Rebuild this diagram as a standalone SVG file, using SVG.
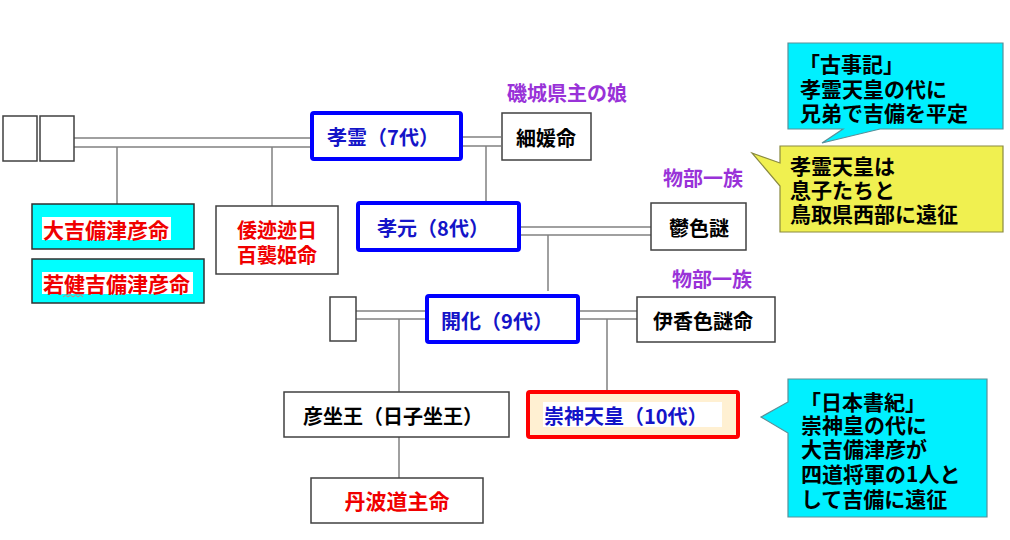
<svg xmlns="http://www.w3.org/2000/svg" width="1010" height="540" viewBox="0 0 1010 540">
<style>
text{font-family:"Noto Sans CJK JP","Noto Sans",sans-serif;font-weight:700;dominant-baseline:central}
.box{fill:#fff;stroke:#404040;stroke-width:1.5}
.cyanbox{fill:#00ffff;stroke:#303030;stroke-width:1.5}
.emp{fill:#fff;stroke:#0000ff;stroke-width:4}
.line{stroke:#808080;stroke-width:1.5;fill:none}
.blk{fill:#000;font-size:20px}
.red{fill:#f00000;font-size:21px}
.blu{fill:#1414c8;font-size:20px}
.pur{fill:#9932d8;font-size:20px}
.note{fill:#000;font-size:21px}
.mid{text-anchor:middle}
</style>
<rect width="1010" height="540" fill="#fff"/>
<g id="connectors">
<line class="line" x1="74" y1="138" x2="312" y2="138"/>
<line class="line" x1="74" y1="147" x2="312" y2="147"/>
<line class="line" x1="117" y1="147" x2="117" y2="205"/>
<line class="line" x1="272" y1="147" x2="272" y2="206"/>
<line class="line" x1="461" y1="137" x2="501" y2="137"/>
<line class="line" x1="461" y1="146" x2="501" y2="146"/>
<line class="line" x1="486" y1="146" x2="486" y2="203"/>
<line class="line" x1="519" y1="227" x2="651" y2="227"/>
<line class="line" x1="519" y1="235" x2="651" y2="235"/>
<line class="line" x1="548" y1="235" x2="548" y2="291"/>
<line class="line" x1="356" y1="311" x2="427" y2="311"/>
<line class="line" x1="356" y1="319" x2="427" y2="319"/>
<line class="line" x1="399" y1="319" x2="399" y2="392"/>
<line class="line" x1="578" y1="311" x2="637" y2="311"/>
<line class="line" x1="578" y1="319" x2="637" y2="319"/>
<line class="line" x1="607" y1="319" x2="607" y2="391"/>
<line class="line" x1="399" y1="437" x2="399" y2="478"/>
</g>
<g id="blank1"><rect class="box" x="3" y="116" width="34" height="45"/></g>
<g id="blank2"><rect class="box" x="40" y="116" width="34" height="45"/></g>
<g id="kibitsuhiko">
<rect class="cyanbox" x="32" y="204" width="162" height="45"/>
<rect x="42" y="217" width="129" height="23" fill="#fff"/>
<text class="red" x="43" y="228.5">大吉備津彦命</text>
</g>
<g id="wakatake">
<rect class="cyanbox" x="32" y="259" width="172" height="44"/>
<rect x="42" y="272" width="151" height="22" fill="#fff"/>
<text class="red" x="43" y="283">若健吉備津彦命</text>
<path d="M63,297 l2.5,-2 2.5,2 2.5,-2 2.5,2 2.5,-2 2.5,2 2.5,-2 2.5,2" fill="none" stroke="#d08080" stroke-width="1"/>
</g>
<g id="momoso">
<rect class="box" x="216" y="206" width="122" height="68"/>
<text class="red mid" x="277" y="229" style="font-size:20px"><tspan x="277">倭迹迹日</tspan><tspan x="277" dy="25">百襲姫命</tspan></text>
</g>
<g id="korei">
<rect class="emp" x="312" y="113" width="149" height="46" rx="2"/>
<text class="blu mid" x="383" y="136">孝霊（7代）</text>
</g>
<g id="hosohime">
<rect class="box" x="502" y="113" width="89" height="47"/>
<text class="blk mid" x="546" y="137">細媛命</text>
<text class="pur" x="507" y="92">磯城県主の娘</text>
</g>
<g id="kogen">
<rect class="emp" x="358" y="203" width="161" height="47" rx="2"/>
<text class="blu mid" x="433" y="227">孝元（8代）</text>
</g>
<g id="utsushikome">
<rect class="box" x="651" y="203" width="95" height="47"/>
<text class="blk mid" x="699" y="227">鬱色謎</text>
<text class="pur" x="663" y="177">物部一族</text>
</g>
<g id="blank3"><rect class="box" x="330" y="297" width="26" height="44"/></g>
<g id="kaika">
<rect class="emp" x="427" y="296" width="151" height="46" rx="2"/>
<text class="blu mid" x="497" y="320">開化（9代）</text>
</g>
<g id="ikagashikome">
<rect class="box" x="637" y="297" width="138" height="45"/>
<text class="blk mid" x="703" y="320">伊香色謎命</text>
<text class="pur" x="672" y="278">物部一族</text>
</g>
<g id="hikoimasu">
<rect class="box" x="284" y="392" width="225" height="45"/>
<text class="blk mid" x="393" y="415">彦坐王（日子坐王）</text>
</g>
<g id="sujin">
<rect x="528" y="392" width="210" height="45" rx="2" fill="#fff0d2" stroke="#ff0000" stroke-width="4"/>
<rect x="543" y="402" width="179" height="25" fill="#fff"/>
<text class="blu" x="544" y="415">崇神天皇（10代）</text>
</g>
<g id="tanba">
<rect class="box" x="311" y="478" width="172" height="45"/>
<text class="red mid" x="397" y="500">丹波道主命</text>
</g>
<g id="note-kojiki">
<path d="M788,43 H1003 V129 H880 L822,143 L843,129 H788 Z" fill="#00f0ff" stroke="#5a8f98" stroke-width="1.2"/>
<text class="note" x="799" y="63"><tspan x="799">「古事記」</tspan><tspan x="800" dy="25">孝霊天皇の代に</tspan><tspan x="800" dy="24">兄弟で吉備を平定</tspan></text>
</g>
<g id="note-korei">
<path d="M780,146 H1003 V232 H780 V186 L752,153 L780,163 Z" fill="#f0f050" stroke="#8a8a40" stroke-width="1.2"/>
<text class="note" x="790" y="165"><tspan x="790">孝霊天皇は</tspan><tspan x="790" dy="24">息子たちと</tspan><tspan x="790" dy="24">鳥取県西部に遠征</tspan></text>
</g>
<g id="note-nihonshoki">
<path d="M788,379 H987 V517 H788 V433 L761,417 L788,402 Z" fill="#00f0ff" stroke="#5a8f98" stroke-width="1.2"/>
<text class="note" x="800" y="401"><tspan x="800">「日本書紀」</tspan><tspan x="801" dy="23">崇神皇の代に</tspan><tspan x="801" dy="24">大吉備津彦が</tspan><tspan x="801" dy="25">四道将軍の1人と</tspan><tspan x="801" dy="25">して吉備に遠征</tspan></text>
</g>
</svg>
